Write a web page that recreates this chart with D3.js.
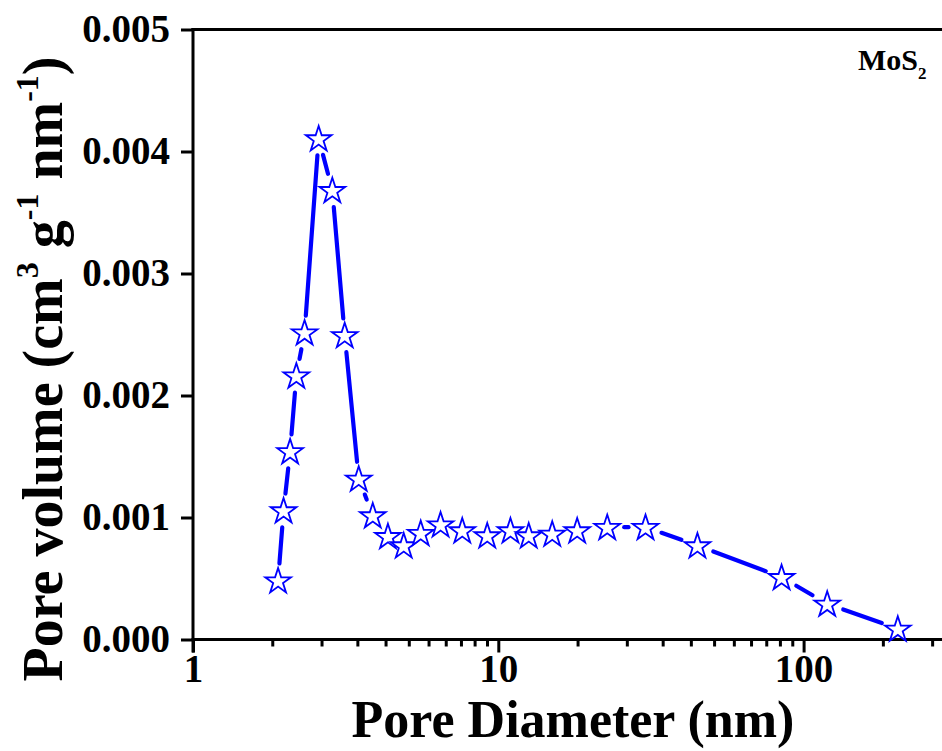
<!DOCTYPE html>
<html>
<head>
<meta charset="utf-8">
<script src="https://cdn.jsdelivr.net/npm/d3@7"></script>
<style>
  html, body { margin: 0; padding: 0; background: #fff; }
  svg { display: block; }
  text { font-family: "Liberation Serif", "Times New Roman", Times, serif; font-weight: bold; fill: #000; }
</style>
</head>
<body>
<svg id="chart" width="942" height="751"></svg>
<script>
// Pore size distribution of MoS2 (BJH style)
const poreDiameter = [1.90, 1.98, 2.08, 2.18, 2.32, 2.58, 2.86, 3.14, 3.49, 3.88,
                      4.35, 4.90, 5.57, 6.47, 7.62, 9.20, 10.96, 12.58, 15.02, 18.13,
                      22.74, 30.35, 44.9, 84.7, 119.5, 203.5];
const poreVolume = [0.000484, 0.001058, 0.001542, 0.002163, 0.002516, 0.004107, 0.003683, 0.002494, 0.001318, 0.001017,
                    0.000847, 0.000771, 0.000872, 0.000943, 0.000894, 0.000853, 0.000894, 0.000853, 0.000867, 0.000894,
                    0.000921, 0.000921, 0.000771, 0.000511, 0.000293, 0.000088];
const xMajorTicks = [1, 10, 100];
const yTicks = [0, 0.001, 0.002, 0.003, 0.004, 0.005];
const sampleLabel = "MoS";
const sampleSub = "2";

const svg = d3.select("#chart");
const W = 942;
const plotLeft = 193, plotBottom = 639.5, plotTop = 29.5;
const decade = 305.3;

const x = d3.scaleLog().domain([1, 300]).range([plotLeft, plotLeft + decade * Math.log10(300)]);
const y = d3.scaleLinear().domain([0, 0.005]).range([plotBottom, plotTop]);

// minor ticks: ten evenly spaced (linear) ticks inside each decade
const xMinorTicks = [];
xMajorTicks.forEach(d => {
  for (let k = 1; k <= 10; k++) {
    const v = d * (1 + 9 * k / 11);
    if (v < 300) xMinorTicks.push(v);
  }
});

const axisColor = "#000";

// minor x ticks
svg.append("g")
  .attr("transform", `translate(0,${plotBottom})`)
  .call(d3.axisBottom(x).tickValues(xMinorTicks).tickSize(7).tickFormat(""))
  .call(g => g.select(".domain").remove())
  .call(g => g.selectAll(".tick line").attr("stroke", axisColor).attr("stroke-width", 3));

// major x ticks + labels
const xAxis = svg.append("g")
  .attr("transform", `translate(0,${plotBottom})`)
  .call(d3.axisBottom(x).tickValues(xMajorTicks).tickSize(13).tickPadding(2).tickFormat(d3.format("d")));
xAxis.select(".domain").remove();
xAxis.selectAll(".tick line").attr("stroke", axisColor).attr("stroke-width", 3);
xAxis.selectAll(".tick text").attr("font-size", 39).attr("font-family", null).attr("fill", "#000");

// x axis line and top frame line
svg.append("line").attr("x1", plotLeft - 1.5).attr("x2", W).attr("y1", plotBottom).attr("y2", plotBottom)
  .attr("stroke", axisColor).attr("stroke-width", 3);
svg.append("line").attr("x1", plotLeft - 1.5).attr("x2", W).attr("y1", plotTop).attr("y2", plotTop)
  .attr("stroke", axisColor).attr("stroke-width", 3);

// y axis
const yAxis = svg.append("g")
  .attr("transform", `translate(${plotLeft},0)`)
  .call(d3.axisLeft(y).tickValues(yTicks).tickSize(12).tickPadding(11).tickFormat(d3.format(".3f")));
yAxis.select(".domain").remove();
yAxis.selectAll(".tick line").attr("stroke", axisColor).attr("stroke-width", 3);
yAxis.selectAll(".tick text").attr("font-size", 39).attr("font-family", null).attr("fill", "#000");
svg.append("line").attr("x1", plotLeft).attr("x2", plotLeft).attr("y1", plotTop - 1.5).attr("y2", plotBottom + 13)
  .attr("stroke", axisColor).attr("stroke-width", 3);

// axis titles
svg.append("text")
  .attr("x", 573).attr("y", 737)
  .attr("text-anchor", "middle")
  .attr("font-size", 52)
  .text("Pore Diameter (nm)");

const yTitle = svg.append("text")
  .attr("transform", "translate(62,369) rotate(-90)")
  .attr("text-anchor", "middle")
  .attr("font-size", 56);
const yParts = [
  { t: "Pore volume (cm", sup: false },
  { t: "3", sup: true },
  { t: " g", sup: false },
  { t: "-1", sup: true },
  { t: " nm", sup: false },
  { t: "-1", sup: true },
  { t: ")", sup: false }
];
let raised = false;
yParts.forEach(p => {
  const ts = yTitle.append("tspan").text(p.t);
  if (p.sup) {
    ts.attr("font-size", 32).attr("dy", raised ? 0 : -24);
    raised = true;
  } else {
    if (raised) ts.attr("dy", 24);
    raised = false;
  }
});

// sample label
const lab = svg.append("text").attr("x", 858).attr("y", 70).attr("font-size", 30);
lab.append("tspan").text(sampleLabel);
lab.append("tspan").attr("font-size", 17).attr("dy", 9).text(sampleSub);

// connecting segments, broken around each symbol
const pts = poreDiameter.map((d, i) => [x(d), y(poreVolume[i])]);
const gap = 17;
const segs = [];
for (let i = 0; i < pts.length - 1; i++) {
  const [x0, y0] = pts[i], [x1, y1] = pts[i + 1];
  const len = Math.hypot(x1 - x0, y1 - y0);
  if (len <= 2 * gap) continue;
  const ux = (x1 - x0) / len, uy = (y1 - y0) / len;
  segs.push([x0 + ux * gap, y0 + uy * gap, x1 - ux * gap, y1 - uy * gap]);
}
svg.append("g").selectAll("line").data(segs).join("line")
  .attr("x1", d => d[0]).attr("y1", d => d[1])
  .attr("x2", d => d[2]).attr("y2", d => d[3])
  .attr("stroke", "#0000ff").attr("stroke-width", 4.2).attr("stroke-linecap", "round");

// star symbols
const R = 13.5;
const star = d3.symbol().type(d3.symbolStar).size(R * R / 0.8908130915292852);
svg.append("g").selectAll("path").data(pts).join("path")
  .attr("transform", d => `translate(${d[0]},${d[1] + 1})`)
  .attr("d", star)
  .attr("fill", "#fff")
  .attr("stroke", "#0000ff")
  .attr("stroke-width", 1.8);
</script>
</body>
</html>
